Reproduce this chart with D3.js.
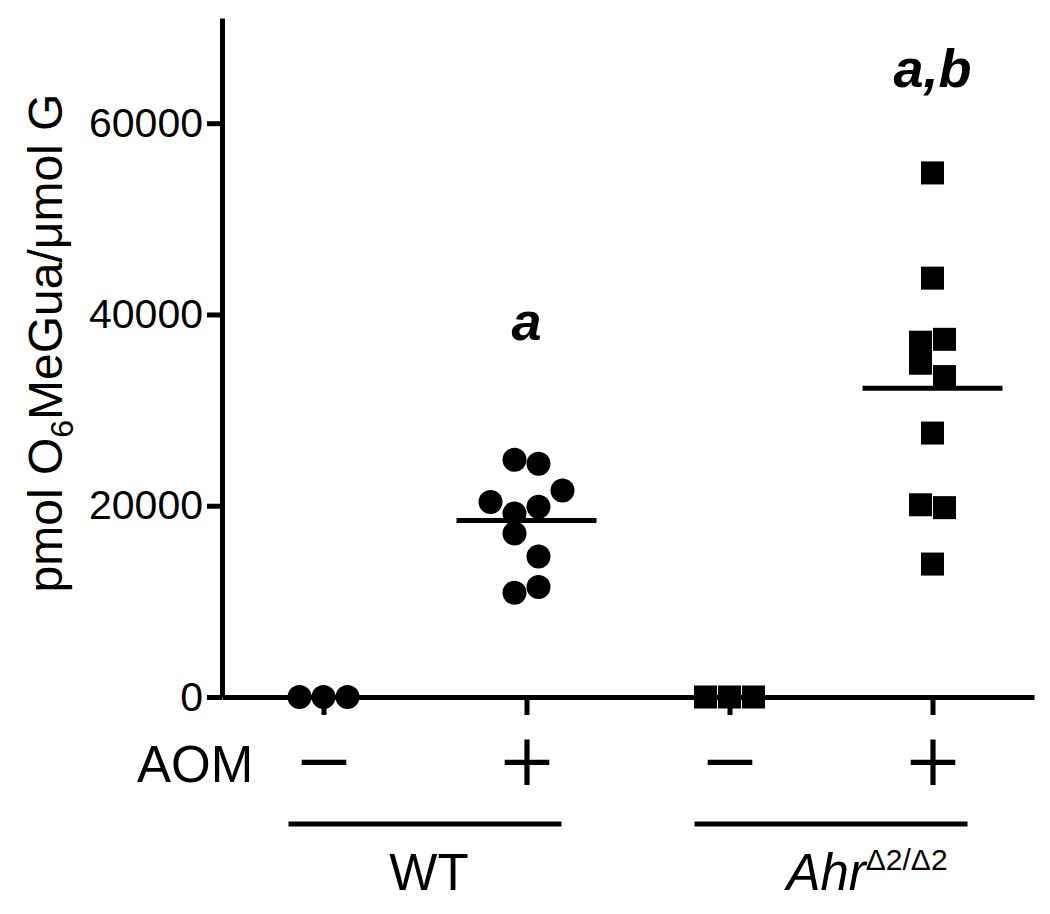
<!DOCTYPE html>
<html>
<head>
<meta charset="utf-8">
<script src="https://cdn.jsdelivr.net/npm/d3@7"></script>
<style>
  body { margin: 0; background: #fff; }
  svg text { font-family: "Liberation Sans", Arial, Helvetica, sans-serif; fill: #000; }
</style>
</head>
<body>
<div id="plot"></div>
<script>
// groups along the x axis
const groups = ["WT-", "WT+", "Ahr-", "Ahr+"];
const aomSigns = ["－", "＋", "－", "＋"];
const genotypes = ["WT", "Ahr"];
const sigLabels = ["", "a", "", "a,b"];

// pmol O6MeGua / umol G
const wtControl = [0, 0, 0];
const wtAom = [24800, 24400, 21600, 20400, 19900, 19200, 17100, 14700, 11500, 10900];
const ahrControl = [0, 0, 0];
const ahrAom = [54800, 43800, 37400, 37100, 34900, 33500, 27600, 20100, 19800, 13900];

// scatter column of each point (in marker widths, 0 = centre)
const wtControlCol = [-1, 0, 1];
const wtAomCol = [-0.5, 0.5, 1.5, -1.5, 0.5, -0.5, -0.5, 0.5, 0.5, -0.5];
const ahrControlCol = [-1, 0, 1];
const ahrAomCol = [0, 0, 0.5, -0.5, -0.5, 0.5, 0, -0.5, 0.5, 0];

const yTicks = [0, 20000, 40000, 60000];

const seriesValues = [wtControl, wtAom, ahrControl, ahrAom];
const seriesCols = [wtControlCol, wtAomCol, ahrControlCol, ahrAomCol];

const width = 1050, height = 914;
const margin = { top: 18, left: 222, right: 16, bottom: 217 };
const lw = 5; // stroke width used everywhere

const svg = d3.select("div#plot")
    .append("svg")
    .attr("width", width)
    .attr("height", height);

const x = d3.scalePoint()
    .domain(groups)
    .range([margin.left, width - margin.right])
    .padding(0.5);

const y = d3.scaleLinear()
    .domain([0, 71000])
    .range([height - margin.bottom, margin.top]);

const colStep = 24; // px between scatter columns

// y axis
const yAxis = d3.axisLeft(y)
    .tickValues(yTicks)
    .tickFormat(d3.format("d"))
    .tickSize(15)
    .tickSizeOuter(0)
    .tickPadding(4);

const gy = svg.append("g")
    .attr("transform", `translate(${margin.left},0)`)
    .call(yAxis);
gy.select(".domain").attr("stroke-width", lw);
gy.selectAll(".tick line").attr("stroke-width", lw);
gy.selectAll(".tick text").attr("font-size", 41).style("font-family", "Liberation Sans, Arial, sans-serif");

// x axis
const xAxis = d3.axisBottom(x)
    .tickFormat((d, i) => aomSigns[i])
    .tickSize(18)
    .tickSizeOuter(0);

const gx = svg.append("g")
    .attr("transform", `translate(0,${y(0)})`)
    .call(xAxis);
gx.select(".domain").attr("stroke-width", lw);
gx.selectAll(".tick line").attr("stroke-width", lw);
gx.selectAll(".tick text")
    .attr("y", 67)
    .attr("dy", "0.35em")
    .attr("font-size", 62)
    .attr("font-weight", 500)
    .style("font-family", "Noto Sans CJK JP, sans-serif");

// AOM row title
svg.append("text")
    .attr("x", 137)
    .attr("y", y(0) + 85)
    .attr("font-size", 51)
    .text("AOM");

// y title
const yTitle = svg.append("text")
    .attr("transform", `translate(62,343) rotate(-90)`)
    .attr("text-anchor", "middle")
    .attr("font-size", 48);
yTitle.append("tspan").text("pmol O");
yTitle.append("tspan").attr("font-size", 32).attr("dy", 11).text("6");
yTitle.append("tspan").attr("dy", -11).text("MeGua/μmol G");

// points
seriesValues.forEach((vals, gi) => {
    const cx = x(groups[gi]);
    const cols = seriesCols[gi];
    const pts = vals.map((v, i) => ({ v: v, c: cols[i] }));
    if (gi < 2) {
        svg.selectAll(`circle.g${gi}`)
            .data(pts)
            .enter().append("circle")
            .attr("class", `g${gi}`)
            .attr("cx", d => cx + d.c * colStep)
            .attr("cy", d => y(d.v))
            .attr("r", 12)
            .attr("fill", "#000");
    } else {
        svg.selectAll(`rect.g${gi}`)
            .data(pts)
            .enter().append("rect")
            .attr("class", `g${gi}`)
            .attr("x", d => cx + d.c * colStep - 11.5)
            .attr("y", d => y(d.v) - 11.5)
            .attr("width", 23)
            .attr("height", 23)
            .attr("fill", "#000");
    }
});

// mean lines for the AOM groups
[1, 3].forEach(gi => {
    const m = d3.mean(seriesValues[gi]);
    const cx = x(groups[gi]);
    svg.append("line")
        .attr("x1", cx - 70).attr("x2", cx + 70)
        .attr("y1", y(m)).attr("y2", y(m))
        .attr("stroke", "#000")
        .attr("stroke-width", lw);
});

// significance letters
svg.selectAll("text.sig")
    .data(sigLabels)
    .enter().append("text")
    .attr("class", "sig")
    .attr("x", (d, i) => x(groups[i]))
    .attr("y", (d, i) => i === 3 ? 87 : 340)
    .attr("text-anchor", "middle")
    .attr("font-size", 54)
    .attr("font-weight", "bold")
    .attr("font-style", "italic")
    .text(d => d);

// genotype underlines + labels
genotypes.forEach((g, k) => {
    const x1 = x(groups[2 * k]) - 35;
    const x2 = x(groups[2 * k + 1]) + 35;
    svg.append("line")
        .attr("x1", x1).attr("x2", x2)
        .attr("y1", 824).attr("y2", 824)
        .attr("stroke", "#000")
        .attr("stroke-width", lw);
    const t = svg.append("text")
        .attr("x", (x1 + x2) / 2 + (k === 1 ? 36 : 4))
        .attr("y", 890)
        .attr("text-anchor", "middle")
        .attr("font-size", 51);
    if (k === 0) {
        t.text(g);
    } else {
        t.append("tspan").attr("font-style", "italic").text(g);
        t.append("tspan").attr("font-size", 30).attr("dy", -20).text("Δ2/Δ2");
    }
});
</script>
</body>
</html>
